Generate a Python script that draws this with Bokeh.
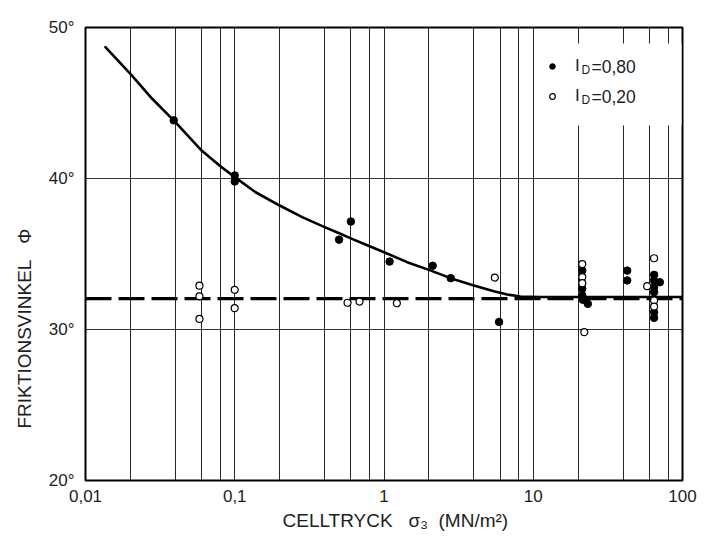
import math
from bokeh.plotting import figure
from bokeh.models import (FixedTicker, Legend, LegendItem, Label, BoxAnnotation,
                          CustomJSTickFormatter, Title)
from bokeh.embed import file_html
from bokeh.resources import INLINE

# ---------------- data ----------------
x_ticks = [0.01, 0.1, 1, 10, 100]
y_ticks = [20, 30, 40, 50]
x_grid = [0.02, 0.04, 0.06, 0.08, 0.1, 0.2, 0.4, 0.6, 0.8, 1,
          2, 4, 6, 8, 10, 20, 40, 60, 80]
y_grid = [30, 40]

# fitted curve (I_D = 0,80)
curve_x = [0.0136, 0.02, 0.028, 0.04, 0.06, 0.079, 0.1, 0.138, 0.2, 0.283,
           0.4, 0.51, 0.61, 0.78, 1.0, 1.43, 2.0, 2.79, 4.0, 5.45, 6.7, 8.2,
           11.2, 20, 50, 100]
curve_y = [48.70, 46.93, 45.28, 43.73, 41.85, 40.86, 40.09, 39.09, 38.21, 37.44,
           36.78, 36.34, 36.0, 35.56, 35.12, 34.46, 33.95, 33.4, 32.91, 32.54,
           32.32, 32.19, 32.15, 32.15, 32.15, 32.15]

# dashed reference line (I_D = 0,20)
ref_x = [0.01, 100]
ref_y = [32.05, 32.05]

# I_D = 0,80 (filled)
dense_x = [0.039, 0.1, 0.1, 0.5, 0.6, 1.09, 2.12, 2.8, 5.9,
           21.3, 21.3, 21.3, 21.5, 23.2,
           42.6, 42.6,
           64.5, 64.5, 70.5, 64.5, 64.5, 64.5, 64.5]
dense_y = [43.85, 40.2, 39.8, 35.95, 37.15, 34.5, 34.22, 33.4, 30.5,
           33.9, 32.7, 32.25, 31.97, 31.7,
           33.9, 33.25,
           33.62, 33.25, 33.13, 32.8, 32.47, 31.15, 30.77]

# I_D = 0,20 (open)
loose_x = [0.058, 0.058, 0.058, 0.1, 0.1, 0.57, 0.686, 1.22, 5.53,
           21.3, 21.3, 21.3, 22.0,
           64.5, 58.0, 64.5, 64.5]
loose_y = [32.9, 32.2, 30.7, 32.63, 31.41, 31.77, 31.85, 31.74, 33.44,
           34.33, 33.47, 33.07, 29.82,
           34.72, 32.87, 31.92, 31.52]

legend_labels = ["I", "I"]
legend_sub = ["D", "D"]
legend_values = ["=0,80", "=0,20"]

NB = "\u00a0"
x_title = "CELLTRYCK" + NB * 3 + "\u03c3\u2083" + NB * 2 + "(MN/m\u00b2)"
y_title = "FRIKTIONSVINKEL" + NB * 3 + "\u03a6"

FONT = "Liberation Sans"
TXT = "#1e1e1e"

p = figure(width=704, height=546, x_axis_type="log",
           x_range=(0.01, 100), y_range=(20, 50),
           output_backend="svg", toolbar_location=None,
           min_border_left=85, min_border_right=22,
           min_border_top=27, min_border_bottom=66)

p.outline_line_color = "black"
p.outline_line_width = 2
p.background_fill_color = "white"

for ax in (p.xaxis, p.yaxis):
    ax.axis_line_color = None
    ax.major_tick_line_color = None
    ax.minor_tick_line_color = None
    ax.major_label_text_font = FONT
    ax.major_label_text_font_size = "17px"
    ax.major_label_text_color = TXT

p.xaxis.ticker = FixedTicker(ticks=x_ticks)
p.xaxis.formatter = CustomJSTickFormatter(code="return tick.toString().replace('.', ',');")
p.xaxis.major_label_standoff = 3
p.yaxis.ticker = FixedTicker(ticks=y_ticks)
p.yaxis.formatter = CustomJSTickFormatter(code="return tick + '\u00b0';")
p.yaxis.major_label_standoff = 5

p.xgrid.ticker = FixedTicker(ticks=x_grid)
p.xgrid.grid_line_color = "black"
p.xgrid.grid_line_alpha = 0.85
p.xgrid.grid_line_width = 1
p.ygrid.ticker = FixedTicker(ticks=y_grid)
p.ygrid.grid_line_color = "black"
p.ygrid.grid_line_alpha = 0.8
p.ygrid.grid_line_width = 1

# lines
p.line(ref_x, ref_y, line_color="black", line_width=3.2, line_dash="26 7")
p.line(curve_x, curve_y, line_color="black", line_width=2.6,
       line_join="round", line_cap="round")

# points
r_dense = p.scatter(dense_x, dense_y, size=7.5, marker="circle",
                    fill_color="black", line_color="black")
r_loose = p.scatter(loose_x, loose_y, size=7, marker="circle",
                    fill_color="white", line_color="black", line_width=1.2)

# legend background (covers grid lines)
p.add_layout(BoxAnnotation(left=455, right=596, top=437, bottom=355,
                           left_units="screen", right_units="screen",
                           top_units="screen", bottom_units="screen",
                           fill_color="white", fill_alpha=1, line_color=None))

legend = Legend(items=[LegendItem(label=legend_labels[0], renderers=[r_dense]),
                       LegendItem(label=legend_labels[1], renderers=[r_loose])],
                location=(460, 374), padding=0, margin=0, spacing=10,
                glyph_width=14, glyph_height=20, label_height=20,
                label_standoff=16, background_fill_alpha=0,
                border_line_color=None,
                label_text_font=FONT, label_text_font_size="17px",
                label_text_color=TXT)
p.add_layout(legend)

for i, (sub, val) in enumerate(zip(legend_sub, legend_values)):
    p.add_layout(Label(x=496, y=411 - 30 * i, x_units="screen", y_units="screen",
                       text=sub, text_font=FONT, text_font_size="12px",
                       text_color=TXT, text_baseline="alphabetic"))
    p.add_layout(Label(x=506, y=413.5 - 30 * i, x_units="screen", y_units="screen",
                       text=val, text_font=FONT, text_font_size="17.5px",
                       text_color=TXT, text_baseline="alphabetic"))

# axis titles
p.add_layout(Title(text=x_title, align="left", offset=197, standoff=7,
                   text_font=FONT, text_font_size="19px",
                   text_font_style="normal", text_color=TXT), "below")
p.add_layout(Title(text=y_title, align="left", offset=52, standoff=21,
                   text_font=FONT, text_font_size="19px",
                   text_font_style="normal", text_color=TXT), "left")

open("out.html", "w").write(file_html(p, INLINE))
